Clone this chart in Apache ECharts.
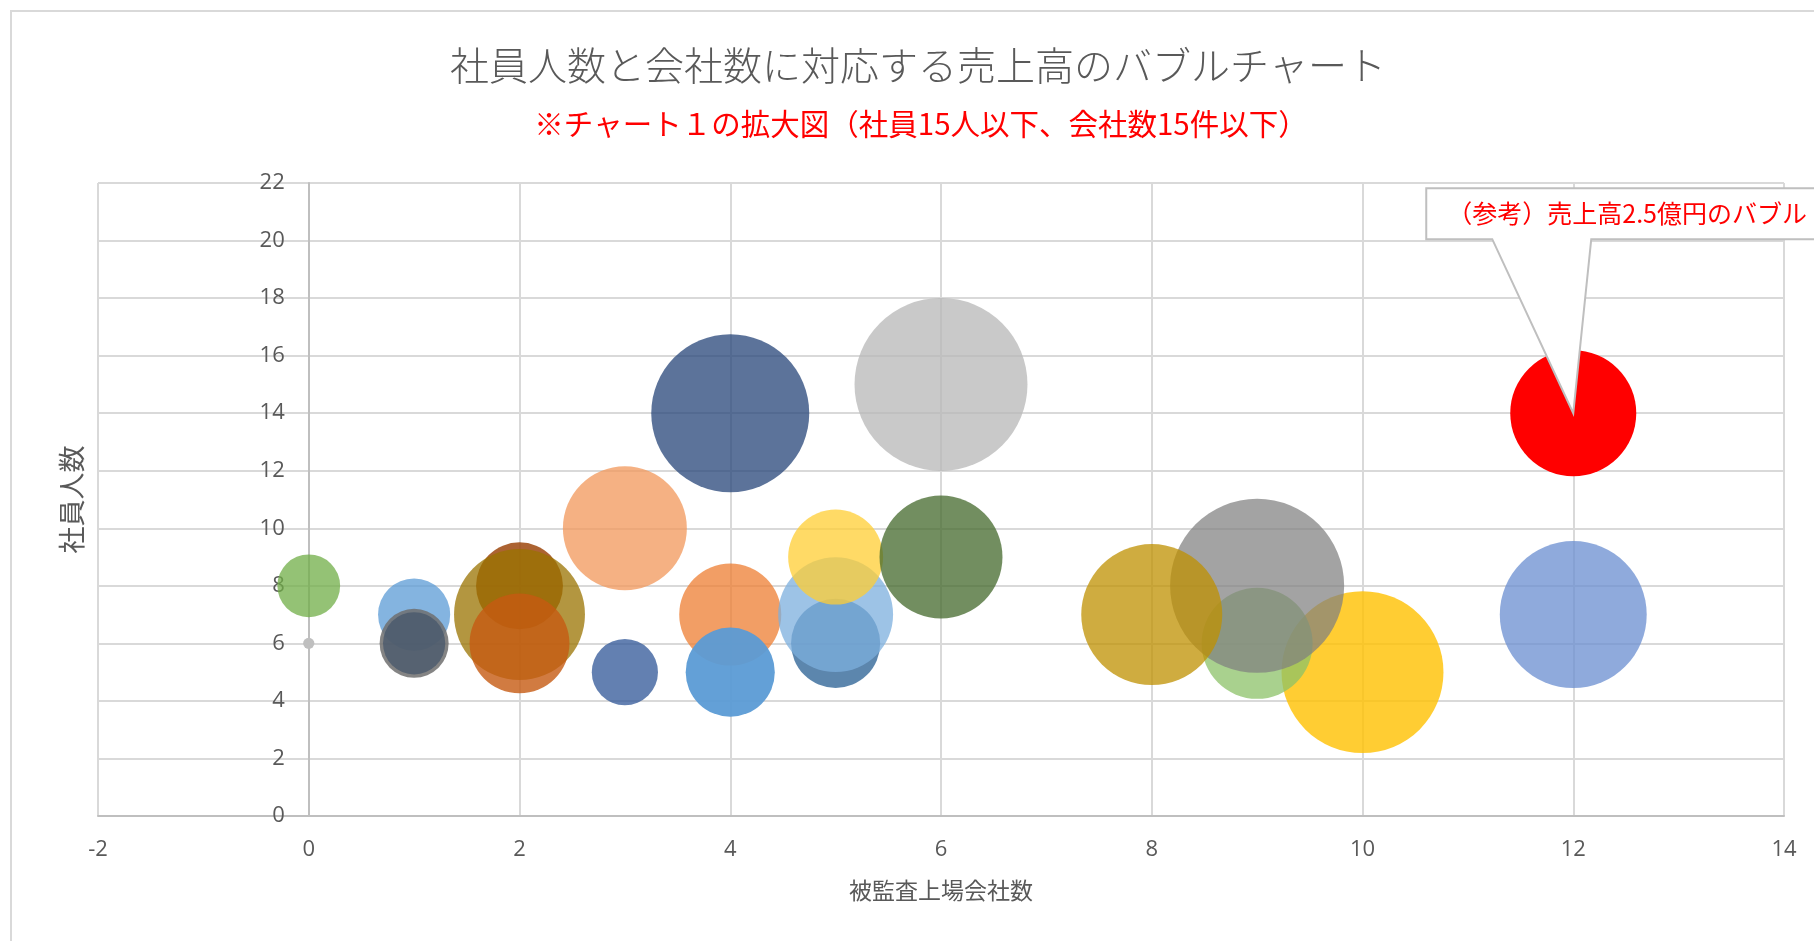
<!DOCTYPE html>
<html><head><meta charset="utf-8">
<script src="https://cdn.jsdelivr.net/npm/echarts@6/dist/echarts.min.js"></script>
<style>html,body{margin:0;padding:0;background:#fff}#c{width:1814px;height:941px}</style>
</head><body><div id="c"></div>
<script>
// 被監査上場会社数 (x), 社員人数 (y), 売上高 (億円, bubble size)
const companies = [0, 0, 1, 1, 1, 2, 2, 2, 3, 3, 4, 4, 4, 5, 5, 5, 6, 6, 10, 9, 9, 8, 12, 12];
const employees = [6, 8, 7, 6, 6, 8, 7, 6, 10, 5, 14, 7, 5, 6, 7, 9, 15, 9, 5, 6, 8, 7, 7, 14];
const sales = [0.02, 0.62, 0.82, 0.75, 0.61, 1.19, 2.70, 1.57, 2.42, 0.69, 3.93, 1.64, 1.25, 1.25, 2.08, 1.42, 4.71, 2.38, 4.13, 1.94, 4.77, 3.13, 3.40, 2.5];
const referenceIndex = 23; // （参考）売上高2.5億円のバブル
const xTicks = [-2, 0, 2, 4, 6, 8, 10, 12, 14];
const yTicks = [0, 2, 4, 6, 8, 10, 12, 14, 16, 18, 20, 22];

const titleText = '社員人数と会社数に対応する売上高のバブルチャート';
const subtitleText = '※チャート１の拡大図（社員15人以下、会社数15件以下）';
const calloutText = '（参考）売上高2.5億円のバブル';
const xName = '被監査上場会社数';
const yName = '社員人数';

const colors = [
  '#BFBFBF', 'rgba(112,173,71,0.75)', 'rgba(91,155,213,0.75)', 'rgba(110,110,110,0.85)',
  'rgba(68,84,106,0.72)', 'rgba(158,72,14,0.85)', 'rgba(153,115,0,0.75)', 'rgba(197,90,17,0.8)',
  'rgba(241,151,90,0.75)', 'rgba(47,85,151,0.75)', 'rgba(38,68,120,0.75)', 'rgba(237,125,49,0.75)',
  'rgba(91,155,213,0.95)', 'rgba(37,94,145,0.75)', 'rgba(124,175,221,0.75)', 'rgba(255,205,51,0.75)',
  'rgba(183,183,183,0.75)', 'rgba(67,104,43,0.75)', 'rgba(255,192,0,0.8)', 'rgba(140,193,104,0.75)',
  'rgba(127,127,127,0.72)', 'rgba(191,144,0,0.75)', 'rgba(105,142,208,0.75)', '#FF0000'
];

const JP = '"Noto Sans CJK JP", "Noto Sans", sans-serif';
const NUM = '"Open Sans", "Noto Sans", sans-serif';
const GRID_LEFT = 98;

const data = companies.map((x, i) => ({
  value: [x, employees[i], sales[i]],
  itemStyle: { color: colors[i], opacity: 1 }
}));

const chart = echarts.init(document.getElementById('c'), null, { renderer: 'canvas' });
chart.setOption({
  animation: false,
  backgroundColor: '#ffffff',
  grid: { left: GRID_LEFT, right: 30, top: 183, bottom: 125, containLabel: false, outerBoundsMode: 'none' },
  xAxis: {
    type: 'value',
    min: xTicks[0], max: xTicks[xTicks.length - 1], interval: 2,
    name: xName, nameLocation: 'middle', nameGap: 63,
    nameTextStyle: { fontFamily: JP, fontSize: 23, color: '#595959' },
    axisLine: { show: true, onZero: false, lineStyle: { color: '#BFBFBF', width: 2 } },
    axisTick: { show: false },
    axisLabel: { margin: 23, fontFamily: NUM, fontSize: 22, color: '#595959' },
    splitLine: { show: true, lineStyle: { color: '#D9D9D9', width: 2 } }
  },
  yAxis: {
    type: 'value',
    min: yTicks[0], max: yTicks[yTicks.length - 1], interval: 2,
    offset: 0,
    name: yName, nameLocation: 'middle', nameGap: 224,
    nameTextStyle: { fontFamily: JP, fontSize: 27, color: '#595959' },
    axisLine: { show: true, onZero: false, lineStyle: { color: '#BFBFBF', width: 2 } },
    axisTick: { show: false },
    axisLabel: { margin: 24, fontFamily: NUM, fontSize: 22, color: '#595959' },
    splitLine: { show: true, lineStyle: { color: '#D9D9D9', width: 2 } }
  },
  series: [{
    type: 'scatter',
    data: data,
    symbol: 'circle',
    symbolSize: function (v) { return 126 * Math.sqrt(v[2] / 2.5); },
    itemStyle: { opacity: 1 },
    emphasis: { disabled: true },
    silent: true
  }]
});

// place the vertical axis where x = 0 (as the original chart does)
const zeroX = chart.convertToPixel({ xAxisIndex: 0 }, 0);
chart.setOption({ yAxis: { offset: -(zeroX - GRID_LEFT) } });

const tip = chart.convertToPixel({ xAxisIndex: 0, yAxisIndex: 0 },
  [companies[referenceIndex], employees[referenceIndex]]);
const bx = tip[0] - 147, by = tip[1] - 225, bh = 51;

chart.setOption({
  graphic: [
    { id: 'frame', type: 'rect', z: 0, shape: { x: 11, y: 11, width: 2000, height: 2000 },
      style: { fill: 'none', stroke: '#D9D9D9', lineWidth: 2 } },
    { id: 'title', type: 'text', z: 100, x: 918, y: 65,
      style: { text: titleText, font: '300 39px ' + JP, fill: '#595959',
        textAlign: 'center', align: 'center', verticalAlign: 'middle', textVerticalAlign: 'middle' } },
    { id: 'sub', type: 'text', z: 100, x: 921, y: 124,
      style: { text: subtitleText, font: '29.5px ' + JP, fill: '#FF0000',
        textAlign: 'center', align: 'center', verticalAlign: 'middle', textVerticalAlign: 'middle' } },
    { id: 'callout', type: 'polygon', z: 100,
      shape: { points: [
        [bx, by], [bx + 500, by], [bx + 500, by + bh], [tip[0] + 18, by + bh],
        [tip[0], tip[1]], [tip[0] - 81, by + bh], [bx, by + bh]
      ] },
      style: { fill: '#FFFFFF', stroke: '#BFBFBF', lineWidth: 2 } },
    { id: 'calloutText', type: 'text', z: 101, x: bx + 21, y: by + bh / 2,
      style: { text: calloutText, font: '25px ' + JP, fill: '#FF0000',
        textAlign: 'left', align: 'left', verticalAlign: 'middle', textVerticalAlign: 'middle' } }
  ]
});
</script>
</body></html>
